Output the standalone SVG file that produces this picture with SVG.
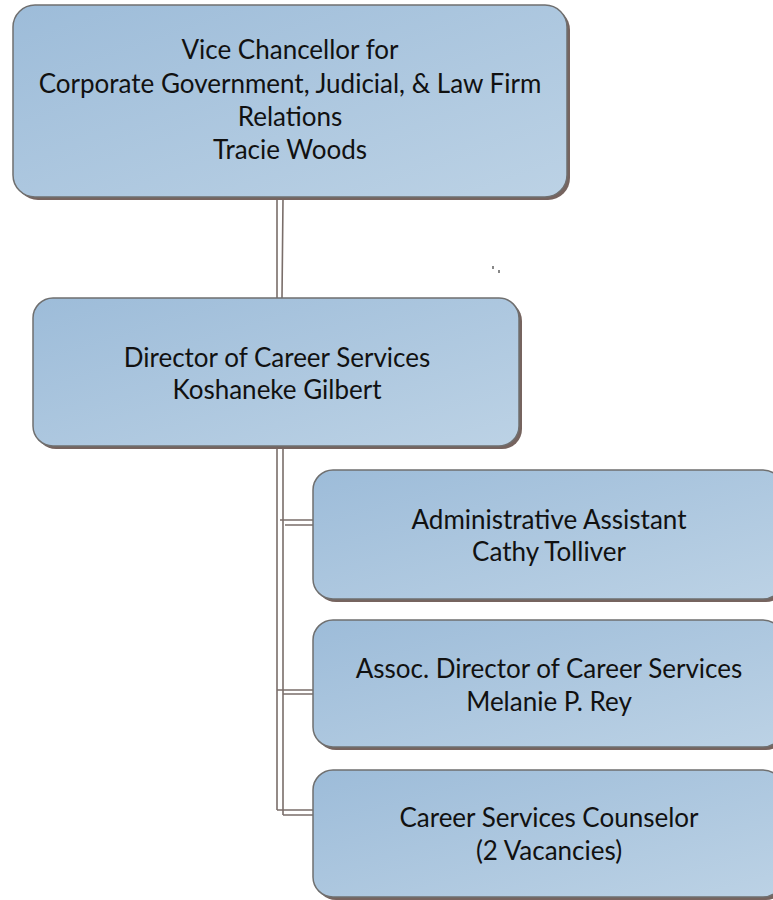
<svg xmlns="http://www.w3.org/2000/svg" width="773" height="900" viewBox="0 0 773 900">
<defs>
<linearGradient id="g" x1="0" y1="0" x2="1" y2="1">
<stop offset="0" stop-color="#9dbcd9"/>
<stop offset="1" stop-color="#bcd2e5"/>
</linearGradient>
<style>
.shadow{fill:#76645f;}
.box{fill:url(#g);stroke:#6f6f6f;stroke-width:1.5;}
.t{font-family:Lato,"Open Sans",sans-serif;font-size:26px;fill:#111111;text-anchor:middle;}
.c{stroke:#7a6e6a;stroke-width:1.6;fill:none;}
</style>
</defs>
<rect width="773" height="900" fill="#ffffff"/>
<g id="connectors">
<path class="c" d="M277 199 L277 298 M283 199 L282 298"/>
<path class="c" d="M277 449 L277 810 M283 449 L283 815"/>
<path class="c" d="M280 520 L315 520 M285 525 L318 525"/>
<path class="c" d="M277 690 L315 690 M283 694 L318 694"/>
<path class="c" d="M277 810 L315 810 M283 815 L318 815"/>
<rect x="492" y="266" width="2" height="3" fill="#888"/>
<rect x="498" y="270" width="2" height="3" fill="#888"/>
</g>
<g id="vc">
<rect class="shadow" x="16" y="8" width="554" height="192" rx="22"/>
<rect class="box" x="13" y="5" width="554" height="192" rx="22"/>
<text class="t" x="290" y="59">Vice Chancellor for</text>
<text class="t" x="290" y="93">Corporate Government, Judicial, &amp; Law Firm</text>
<text class="t" x="290" y="126">Relations</text>
<text class="t" x="290" y="159">Tracie Woods</text>
</g>
<g id="director">
<rect class="shadow" x="36" y="301" width="486" height="148" rx="20"/>
<rect class="box" x="33" y="298" width="486" height="148" rx="20"/>
<text class="t" x="277" y="367">Director of Career Services</text>
<text class="t" x="277" y="399">Koshaneke Gilbert</text>
</g>
<g id="admin">
<rect class="shadow" x="316" y="473" width="470" height="129" rx="20"/>
<rect class="box" x="313" y="470" width="470" height="129" rx="20"/>
<text class="t" x="549" y="529">Administrative Assistant</text>
<text class="t" x="549" y="561">Cathy Tolliver</text>
</g>
<g id="assoc">
<rect class="shadow" x="316" y="623" width="470" height="127" rx="20"/>
<rect class="box" x="313" y="620" width="470" height="127" rx="20"/>
<text class="t" x="549" y="678">Assoc. Director of Career Services</text>
<text class="t" x="549" y="711">Melanie P. Rey</text>
</g>
<g id="counselor">
<rect class="shadow" x="316" y="773" width="470" height="127" rx="20"/>
<rect class="box" x="313" y="770" width="470" height="127" rx="20"/>
<text class="t" x="549" y="827">Career Services Counselor</text>
<text class="t" x="549" y="860">(2 Vacancies)</text>
</g>
</svg>
